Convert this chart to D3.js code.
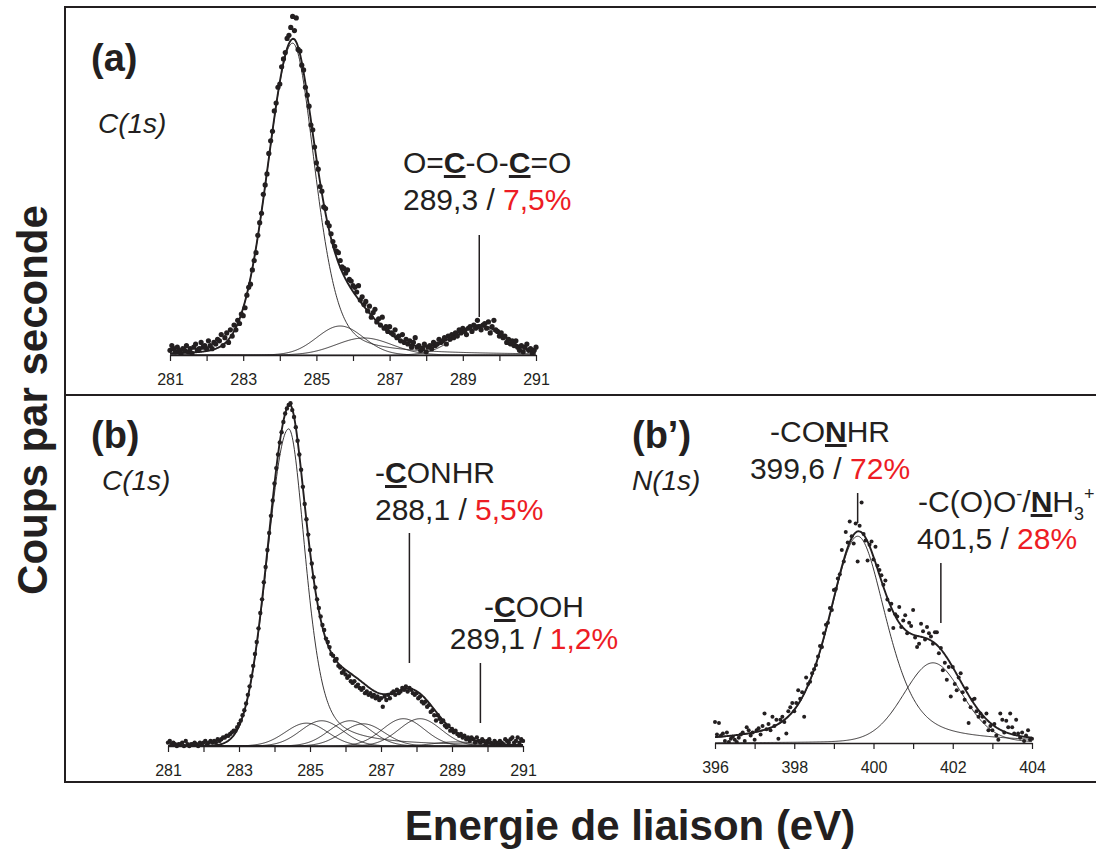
<!DOCTYPE html>
<html lang="fr">
<head>
<meta charset="utf-8">
<title>XPS C(1s) / N(1s)</title>
<script src="https://cdnjs.cloudflare.com/ajax/libs/d3/7.8.5/d3.min.js"></script>
<style>
  body { margin: 0; background: #fff; }
  svg { display: block; font-family: "Liberation Sans", Arial, sans-serif; }
</style>
</head>
<body>
<div id="chart"></div>
<script>
// ---- données (intensité relative, 100 = sommet du spectre) ----
var step = 0.05;
var aStart = 281, bStart = 281, bpStart = 396;

// panneau (a) C(1s), 281 -> 291 eV
var aCounts = [
  1.5,3.0,2.0,1.0,2.5,1.5,0.5,2.0,1.5,3.0,1.0,2.0,0.5,2.5,3.5,1.5,2.0,4.0,2.5,3.0,
  2.0,4.5,3.0,2.0,4.0,3.5,5.0,4.5,6.5,3.0,5.5,7.0,4.0,8.0,6.0,9.5,8.0,11.0,10.0,13.0,
  12.5,15.0,19.0,21.5,22.5,27.0,30.0,32.5,38.0,42.0,45.0,51.0,54.0,57.5,64.0,68.0,71.0,77.5,80.0,85.0,
  86.0,91.5,94.0,96.0,100.5,101.5,104.0,107.5,103.0,107.0,97.0,96.5,92.0,90.5,85.0,82.5,79.0,73.0,71.5,66.0,
  61.0,59.0,53.5,52.0,47.0,46.5,42.0,41.0,38.5,36.0,34.5,33.0,32.5,30.0,28.0,27.5,26.0,27.0,24.0,23.5,
  22.0,21.5,20.0,22.0,17.5,18.5,16.0,17.0,14.0,15.5,12.0,13.5,14.5,10.5,11.5,9.5,12.0,8.5,9.0,7.5,
  9.0,7.0,6.5,8.0,5.5,6.0,4.5,6.5,4.0,5.0,3.5,4.5,2.5,4.0,5.5,2.5,3.0,1.5,2.0,3.5,
  1.0,2.5,3.0,2.0,4.0,3.0,3.5,5.0,4.0,4.5,5.5,3.5,6.0,5.0,6.5,5.5,7.0,6.0,8.0,7.0,
  8.5,7.5,6.5,8.5,9.0,7.5,9.5,8.5,11.0,9.0,8.0,9.5,10.0,8.5,10.5,7.0,9.0,11.0,8.0,7.5,
  6.0,7.0,5.5,6.0,4.0,5.0,3.5,4.5,3.0,4.5,2.5,1.5,3.0,1.0,2.5,3.5,1.5,2.0,0.5,1.5,
  2.5
];

// panneau (b) C(1s), 281 -> 291 eV
var bCounts = [
  1.0,1.5,0.5,1.0,0.5,0.0,0.5,0.5,1.0,0.0,1.5,0.5,0.0,0.5,0.5,1.0,0.5,0.0,1.0,0.5,
  1.0,1.5,0.5,1.0,1.5,1.0,1.5,1.0,2.0,1.5,2.0,2.5,2.5,3.0,3.0,3.5,4.0,4.5,4.5,5.5,
  6.5,7.5,9.0,10.5,12.5,15.0,17.5,20.5,23.5,27.0,30.5,34.5,39.0,43.0,48.0,52.5,57.5,62.5,67.5,72.0,
  77.0,81.5,85.5,89.0,92.0,95.0,97.5,99.0,100.0,100.5,98.5,96.5,93.5,89.5,85.5,81.0,76.0,71.0,66.5,62.0,
  57.5,53.5,49.5,46.5,43.0,40.5,38.0,35.5,34.0,31.5,30.5,29.0,27.0,26.5,25.0,25.5,23.5,23.0,21.5,22.0,
  21.0,20.0,20.5,19.0,18.5,19.0,17.5,18.0,17.0,16.5,17.0,15.5,16.0,15.0,15.5,14.5,15.0,14.0,14.5,13.5,
  14.0,11.5,14.5,13.5,15.0,14.0,15.5,16.0,15.0,16.5,15.5,16.0,17.0,16.5,17.5,16.0,17.0,16.5,15.5,15.0,
  15.5,14.0,14.5,13.0,12.5,13.0,11.5,12.0,10.0,10.5,9.0,7.5,9.0,8.0,7.0,7.5,6.0,5.5,6.0,4.5,
  5.0,4.0,4.5,3.5,3.0,3.5,2.5,3.0,2.0,2.5,1.5,2.5,2.0,1.0,2.5,1.5,1.0,2.0,1.5,0.5,
  1.5,2.0,1.0,0.5,1.5,1.0,0.5,1.5,1.0,0.5,2.0,1.5,1.0,2.0,2.5,1.0,1.5,2.5,1.0,2.0,
  1.5
];

// panneau (b') N(1s), 396 -> 404 eV
var bpCounts = [
  10,4,9.5,3.5,4.5,1,5,0.5,2,3,1.5,0.5,2.5,4,5,1,7.5,6,3.5,5,
  1.5,6,7,4,8,14,6.5,9,6,12.5,8,11,2,11,12.5,10,4.5,15,17,19,
  15,19,25,21,24,12.5,31,28,29,33,35,37,41,46,45.5,52,56,57,64,63,
  72.5,73,78,80,91.5,86,100,95,105,98,94.5,104,86,103,114,99,96,86.5,94,95.5,
  87,93,84,82,79.5,75,77,68,63,66,54.5,61,60,64.5,55,58,60.5,52,57,55.5,
  63,50,45.5,47,56.5,53,49,55,52,50.5,47,52.5,52.5,42.5,45,34.5,38,30,36,22,
  36,28,25,31,33,24,20.5,26,9.5,17,20.5,21,15,12.5,14,12.5,10,14,6,8,
  6,9,3.5,1.5,14,11,5,10.5,7.5,14,7.5,4.5,11,4.5,2.5,5,1,3.5,6,1.5,
  2
];

// composantes ajustées : [centre eV, hauteur, demi-largeur gauche, demi-largeur droite, part Lorentz gauche, part Lorentz droite]
var aPeaks = [
  [284.35, 99, 0.80, 0.72, 0.10, 0.35],
  [285.65, 9.2, 0.75, 0.75, 0, 0],
  [286.30, 5.4, 0.90, 0.90, 0, 0],
  [289.45, 8.8, 0.80, 0.80, 0, 0]
];
var bPeaks = [
  [284.40, 93, 0.70, 0.56, 0, 0.5],
  [284.90, 6.7, 0.7, 0.7, 0, 0],
  [285.33, 7.4, 0.7, 0.7, 0, 0],
  [286.13, 7.4, 0.7, 0.7, 0, 0],
  [286.50, 6.5, 0.7, 0.7, 0, 0],
  [287.63, 8.0, 0.7, 0.7, 0, 0],
  [288.10, 8.0, 0.7, 0.7, 0, 0],
  [289.10, 1.2, 0.7, 0.7, 0, 0]
];
var bpPeaks = [
  [399.60, 98, 0.86, 0.86, 0.5, 0.5],
  [401.50, 38, 0.88, 0.88, 0.15, 0.15]
];

var cTicks = d3.range(281, 292);
var nTicks = d3.range(396, 405);

// ---- mise en page ----
var w = 1096, h = 850;
var ink = "#231f20", red = "#ed1c24";

var svg = d3.select("#chart").append("svg")
    .attr("width", w)
    .attr("height", h);

// pseudo-Voigt asymétrique
function peakValue(v, p) {
  var d = v - p[0];
  var hw = d < 0 ? p[2] : p[3];
  var m = d < 0 ? p[4] : p[5];
  var r2 = (d / hw) * (d / hw);
  return p[1] * ((1 - m) * Math.exp(-Math.LN2 * r2) + m / (1 + r2));
}

function drawPanel(o) {
  var x = d3.scaleLinear().domain(o.domain).range([o.x0, o.x1]);
  var y = d3.scaleLinear().domain([0, 100]).range([o.base, o.top]);
  var g = svg.append("g");
  var xs = d3.range(o.domain[0], o.domain[1] + 0.001, 0.02);
  var line = d3.line().x(function(d) { return x(d[0]); }).y(function(d) { return y(d[1]); });

  // composantes
  o.peaks.forEach(function(p) {
    g.append("path")
     .datum(xs.map(function(v) { return [v, peakValue(v, p)]; }))
     .attr("d", line)
     .attr("fill", "none")
     .attr("stroke", ink)
     .attr("stroke-width", 0.9);
  });
  // enveloppe
  g.append("path")
   .datum(xs.map(function(v) { return [v, d3.sum(o.peaks, function(p) { return peakValue(v, p); })]; }))
   .attr("d", line)
   .attr("fill", "none")
   .attr("stroke", ink)
   .attr("stroke-width", 1.9);
  // points expérimentaux
  g.selectAll("circle.pt")
   .data(o.counts)
   .enter().append("circle")
   .attr("class", "pt")
   .attr("cx", function(d, i) { return x(o.start + i * step); })
   .attr("cy", function(d) { return y(d); })
   .attr("r", o.r)
   .attr("fill", ink);
  // axe
  var axis = g.append("g")
    .attr("transform", "translate(0," + o.base + ")")
    .call(d3.axisBottom(x)
      .tickValues(o.ticks)
      .tickSizeInner(6)
      .tickSizeOuter(0)
      .tickPadding(13)
      .tickFormat(function(d) { return o.labelled(d) ? d : ""; }));
  axis.select(".domain").attr("stroke", ink).attr("stroke-width", 1.7);
  axis.selectAll(".tick line").attr("stroke", ink).attr("stroke-width", 1.2);
  axis.selectAll(".tick text")
    .attr("fill", ink)
    .attr("font-size", 16)
    .attr("font-family", "'Liberation Sans', Arial, sans-serif");
  return x;
}

var xa = drawPanel({domain: [281, 291], x0: 170, x1: 536, base: 355, top: 40,
  peaks: aPeaks, counts: aCounts, start: aStart, r: 2.6, ticks: cTicks,
  labelled: function(d) { return d % 2 === 1; }});
var xb = drawPanel({domain: [281, 291], x0: 168, x1: 523, base: 746, top: 405,
  peaks: bPeaks, counts: bCounts, start: bStart, r: 2.2, ticks: cTicks,
  labelled: function(d) { return d % 2 === 1; }});
var xbp = drawPanel({domain: [396, 404], x0: 715, x1: 1032, base: 743, top: 532,
  peaks: bpPeaks, counts: bpCounts, start: bpStart, r: 2.0, ticks: nTicks,
  labelled: function(d) { return d % 2 === 0; }});

// cadre
var frame = svg.append("g").attr("stroke", ink).attr("stroke-width", 2);
frame.append("line").attr("x1", 65).attr("y1", 7).attr("x2", w).attr("y2", 7);
frame.append("line").attr("x1", 65).attr("y1", 395).attr("x2", w).attr("y2", 395);
frame.append("line").attr("x1", 65).attr("y1", 782).attr("x2", w).attr("y2", 782);
frame.append("line").attr("x1", 65).attr("y1", 6).attr("x2", 65).attr("y2", 783);

// texte riche
function rich(x, y, anchor, size, parts) {
  var t = svg.append("text")
    .attr("x", x).attr("y", y)
    .attr("text-anchor", anchor)
    .attr("font-size", size)
    .attr("fill", ink);
  parts.forEach(function(p) {
    var s = t.append("tspan").text(p.t);
    if (p.b) s.attr("font-weight", "bold");
    if (p.u) s.style("text-decoration", "underline");
    if (p.red) s.attr("fill", red);
    if (p.fs) s.attr("font-size", p.fs);
    if (p.dy) s.attr("dy", p.dy);
  });
  return t;
}

// titres de panneaux
rich(91, 71, "start", 38, [{t: "(a)", b: 1}]);
rich(91, 448, "start", 38, [{t: "(b)", b: 1}]);
rich(632, 448, "start", 38, [{t: "(b\u2019)", b: 1}]);
rich(98, 133, "start", 28, [{t: "C(1s)"}]).attr("font-style", "italic");
rich(102, 490, "start", 28, [{t: "C(1s)"}]).attr("font-style", "italic");
rich(632, 490, "start", 28, [{t: "N(1s)"}]).attr("font-style", "italic");

// annotations
rich(403, 173, "start", 30, [{t: "O="}, {t: "C", b: 1, u: 1}, {t: "-O-"}, {t: "C", b: 1, u: 1}, {t: "=O"}]);
rich(403, 210, "start", 30, [{t: "289,3 / "}, {t: "7,5%", red: 1}]);

rich(375, 483, "start", 30, [{t: "-"}, {t: "C", b: 1, u: 1}, {t: "ONHR"}]);
rich(375, 520, "start", 30, [{t: "288,1 / "}, {t: "5,5%", red: 1}]);
rich(534, 617, "middle", 30, [{t: "-"}, {t: "C", b: 1, u: 1}, {t: "OOH"}]);
rich(534, 649, "middle", 30, [{t: "289,1 / "}, {t: "1,2%", red: 1}]);

rich(830, 442, "middle", 30, [{t: "-CO"}, {t: "N", b: 1, u: 1}, {t: "HR"}]);
rich(830, 479, "middle", 30, [{t: "399,6 / "}, {t: "72%", red: 1}]);
rich(918, 512, "start", 30, [{t: "-C(O)O"}, {t: "-", fs: 18, dy: -12}, {t: "/", dy: 12},
  {t: "N", b: 1, u: 1}, {t: "H"}, {t: "3", fs: 18, dy: 8}, {t: "+", fs: 18, dy: -20}]);
rich(917, 549, "start", 30, [{t: "401,5 / "}, {t: "28%", red: 1}]);

// traits de repère
var leaders = svg.append("g").attr("stroke", ink).attr("stroke-width", 1.5);
leaders.append("line").attr("x1", xa(289.45)).attr("x2", xa(289.45)).attr("y1", 235).attr("y2", 317);
leaders.append("line").attr("x1", xb(287.8)).attr("x2", xb(287.8)).attr("y1", 533).attr("y2", 663);
leaders.append("line").attr("x1", xb(289.8)).attr("x2", xb(289.8)).attr("y1", 663).attr("y2", 723);
leaders.append("line").attr("x1", xbp(399.6)).attr("x2", xbp(399.6)).attr("y1", 493).attr("y2", 523);
leaders.append("line").attr("x1", xbp(401.7)).attr("x2", xbp(401.7)).attr("y1", 563).attr("y2", 623);

// titres d'axes
svg.append("text")
  .attr("transform", "translate(47,400) rotate(-90)")
  .attr("text-anchor", "middle")
  .attr("font-size", 42)
  .attr("font-weight", "bold")
  .attr("fill", ink)
  .text("Coups par seconde");
svg.append("text")
  .attr("x", 630).attr("y", 840)
  .attr("text-anchor", "middle")
  .attr("font-size", 42)
  .attr("font-weight", "bold")
  .attr("fill", ink)
  .text("Energie de liaison (eV)");
</script>
</body>
</html>
